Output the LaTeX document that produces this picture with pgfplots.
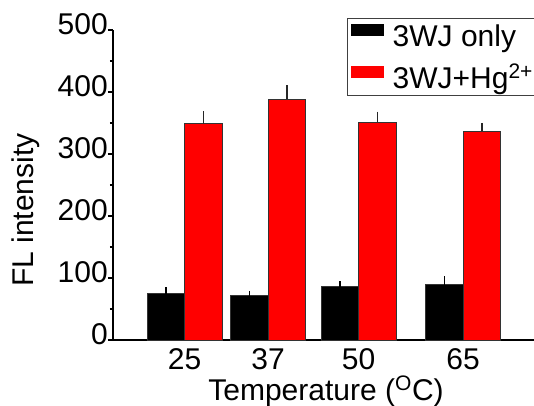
\documentclass[border=0pt]{standalone}
\usepackage{pgfplots}
\pgfplotsset{compat=1.18}
\usepackage{fontspec}
\setmainfont{Liberation Sans}
\definecolor{barred}{RGB}{255,0,0}
\newcommand{\lbl}{\fontsize{22.5}{27}\selectfont}
\begin{document}
\begin{tikzpicture}
\useasboundingbox (-84.75pt,-48.75pt) rectangle (315.75pt,255pt);
\begin{axis}[
  at={(0,0)}, anchor=south west,
  scale only axis, width=315.75pt, height=232.5pt,
  xmin=14.7, xmax=75.2, ymin=0, ymax=500,
  axis x line=bottom, axis y line=left,
  axis line style={-, line width=1.6pt},
  xtick={25,37,50,65}, ytick={0,100,...,500},
  minor y tick num=1,
  tick align=outside,
  major tick length=3.75pt, minor tick length=2.4pt,
  tick style={line width=1.1pt, black},
  xtick style={draw=none},
  /pgf/number format/assume math mode=true,
  tick label style={font=\lbl},
  xticklabel style={anchor=base, inner sep=0pt, yshift=-18pt},
  yticklabel style={anchor=east, inner sep=0pt, yshift=4.5pt},
  xlabel={Temperature (\textsuperscript{O}C)},
  ylabel={FL intensity},
  label style={font=\lbl, inner sep=0pt},
  xlabel style={at={(axis description cs:0.506,-0.195)}, anchor=base},
  ylabel style={at={(axis description cs:-0.24,0.419)}, anchor=north},
  ybar, bar width=5.4,
  legend style={at={(axis description cs:0.5565,1.0378)}, anchor=north west,
    draw=black!75, line width=0.6pt, inner xsep=2.5pt, inner ysep=0pt,
    font=\lbl, row sep=5.5pt,
    nodes={inner sep=0pt, text height=21pt, text depth=5pt}},
  legend cell align=left,
  legend image code/.code={
    \fill[#1, draw=none] (0pt,0pt) rectangle (24.5pt,9.2pt);
    \path (31pt,0pt);
  },
]
% intensity without mercury
\addplot[fill=black, draw=black!80, line width=0.5pt, bar shift=-2.7,
  error bars/.cd, y dir=plus, y explicit, error mark=-,
  error bar style={line width=1.1pt, black},
  error mark options={rotate=0, mark size=2.8pt, line width=1.1pt}]
  coordinates {
    (25,75.0) +- (0,3.8)
    (37,71.3) +- (0,2.1)
    (50,86.8) +- (0,2.2)
    (65,89.5) +- (0,7.0)
  };
% intensity with Hg2+
\addplot[fill=barred, draw=black!80, line width=0.5pt, bar shift=2.7,
  error bars/.cd, y dir=plus, y explicit, error mark=-,
  error bar style={line width=1.1pt, black!85},
  error mark options={rotate=0, mark size=2.8pt, line width=1.1pt}]
  coordinates {
    (25,348.9) +- (0,14.4)
    (37,388.5) +- (0,16.6)
    (50,351.6) +- (0,10.7)
    (65,337.1) +- (0,7.0)
  };
\legend{3WJ only, 3WJ+Hg\textsuperscript{2+}}
\end{axis}
\end{tikzpicture}
\end{document}
